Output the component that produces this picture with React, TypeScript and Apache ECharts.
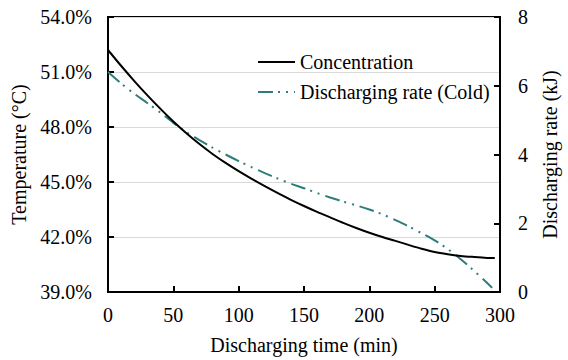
import React, { useEffect, useRef } from "react";
import * as echarts from "echarts";

const concTime = [0, 10, 20, 30, 40, 50, 60, 70, 80, 90, 100, 110, 120, 130, 140, 150, 160, 170, 180, 190, 200, 210, 220, 230, 240, 250, 260, 270, 280, 290, 296];
const concentration = [52.2, 51.34, 50.52, 49.74, 49.0, 48.3, 47.66, 47.07, 46.53, 46.04, 45.59, 45.17, 44.77, 44.39, 44.03, 43.69, 43.37, 43.07, 42.77, 42.49, 42.23, 42.0, 41.79, 41.57, 41.36, 41.18, 41.06, 40.97, 40.91, 40.86, 40.85];

const rateTime = [0, 10, 20, 30, 40, 50, 60, 70, 80, 90, 100, 110, 120, 130, 140, 150, 160, 170, 180, 190, 200, 210, 220, 230, 240, 250, 260, 270, 280, 290, 294];
const dischargeRate = [6.4, 6.07, 5.77, 5.5, 5.22, 4.92, 4.65, 4.42, 4.2, 4.0, 3.81, 3.63, 3.46, 3.3, 3.15, 3.02, 2.88, 2.75, 2.63, 2.52, 2.4, 2.26, 2.09, 1.91, 1.71, 1.5, 1.25, 0.95, 0.62, 0.27, 0.12];

const xTicks = { min: 0, max: 300, interval: 50 };
const leftTicks = { min: 39, max: 54, interval: 3 };
const rightTicks = { min: 0, max: 8, interval: 2 };

const seriesNames = ["Concentration", "Discharging rate (Cold)"];
const axisNames = { x: "Discharging time (min)", left: "Temperature (°C)", right: "Discharging rate (kJ)" };

const FONT = "'Liberation Serif', 'Times New Roman', serif";

export default function App() {
  const ref = useRef<HTMLDivElement>(null);
  useEffect(() => {
    if (!ref.current) return;
    const chart = echarts.init(ref.current, undefined, { renderer: "svg" });
    const txt = { fontFamily: FONT, fontSize: 20, color: "#000" };
    chart.setOption({
      animation: false,
      backgroundColor: "#fff",
      textStyle: { fontFamily: FONT },
      grid: {
        left: 108,
        right: 67,
        top: 17,
        bottom: 62,
        show: true,
        borderColor: "#000",
        borderWidth: 2,
      },
      legend: {
        orient: "vertical",
        left: 252,
        top: 47,
        itemWidth: 37,
        itemHeight: 14,
        itemGap: 10,
        itemStyle: { opacity: 0 },
        textStyle: { ...txt },
        data: seriesNames,
      },
      xAxis: {
        type: "value",
        min: xTicks.min,
        max: xTicks.max,
        interval: xTicks.interval,
        name: axisNames.x,
        nameLocation: "middle",
        nameGap: 43,
        nameTextStyle: { ...txt },
        axisLine: { lineStyle: { color: "#000", width: 2 } },
        axisTick: { inside: true, length: 6, lineStyle: { color: "#000", width: 2 } },
        axisLabel: { ...txt, margin: 13 },
        splitLine: { show: false },
      },
      yAxis: [
        {
          type: "value",
          min: leftTicks.min,
          max: leftTicks.max,
          interval: leftTicks.interval,
          name: axisNames.left,
          nameLocation: "middle",
          nameGap: 66,
          nameTextStyle: { ...txt },
          axisLine: { show: true, lineStyle: { color: "#000", width: 2 } },
          axisTick: { show: true, inside: true, length: 6, lineStyle: { color: "#000", width: 2 } },
          axisLabel: { ...txt, margin: 16, formatter: (v: number) => v.toFixed(1) + "%" },
          splitLine: { show: true, lineStyle: { color: "#d9d9d9", width: 1 } },
        },
        {
          type: "value",
          position: "right",
          min: rightTicks.min,
          max: rightTicks.max,
          interval: rightTicks.interval,
          name: axisNames.right,
          nameLocation: "middle",
          nameGap: 40,
          nameTextStyle: { ...txt },
          axisLine: { show: true, lineStyle: { color: "#000", width: 2 } },
          axisTick: { show: true, inside: true, length: 6, lineStyle: { color: "#000", width: 2 } },
          axisLabel: { ...txt, margin: 18 },
          splitLine: { show: false },
        },
      ],
      series: [
        {
          name: seriesNames[0],
          type: "line",
          yAxisIndex: 0,
          symbol: "none",
          smooth: 0.3,
          data: concTime.map((t, i) => [t, concentration[i]]),
          lineStyle: { color: "#000", width: 2 },
          itemStyle: { color: "#000" },
          z: 3,
        },
        {
          name: seriesNames[1],
          type: "line",
          yAxisIndex: 1,
          symbol: "none",
          smooth: 0.3,
          data: rateTime.map((t, i) => [t, dischargeRate[i]]),
          lineStyle: { color: "#2f7d7a", width: 2, type: [15, 5, 2, 6, 2, 6] },
          itemStyle: { color: "#2f7d7a" },
          z: 2,
        },
      ],
    });
    return () => chart.dispose();
  }, []);
  return <div ref={ref} style={{ width: 568, height: 360, position: "absolute", left: 0, top: 0 }} />;
}
